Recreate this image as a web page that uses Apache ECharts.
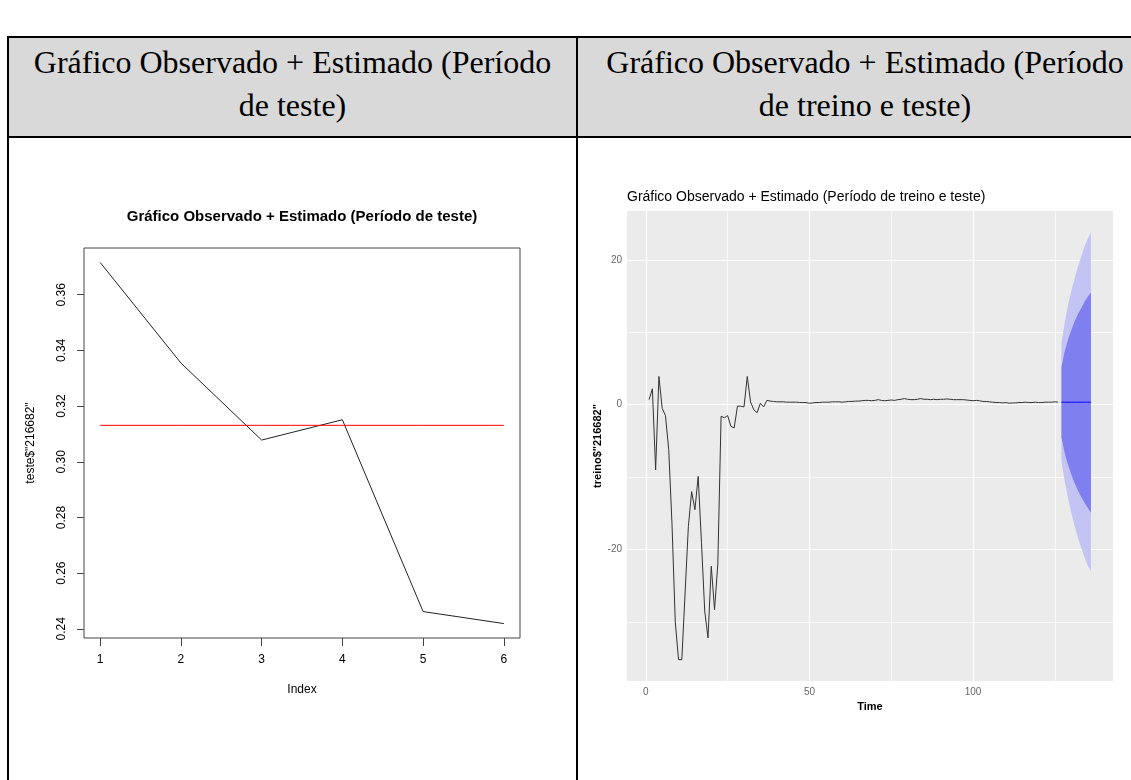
<!DOCTYPE html>
<html><head><meta charset="utf-8">
<script src="https://cdn.jsdelivr.net/npm/echarts@6/dist/echarts.min.js"></script>
<style>
html,body{margin:0;padding:0;background:#fff;}
#wrap{position:relative;width:1131px;height:780px;overflow:hidden;}
.hdr{position:absolute;left:8px;top:37px;width:1160px;height:100px;background:#D9D9D9;}
.ln{position:absolute;background:#000;}
.ht{position:absolute;font-family:'Liberation Serif','Times New Roman',serif;font-size:32px;color:#000;text-align:center;white-space:nowrap;line-height:40px;}
#chart{position:absolute;left:0;top:0;width:1131px;height:780px;}
</style></head>
<body>
<div id="wrap">
  <div class="hdr"></div>
  <div class="ln" style="left:7px;top:36px;width:1124px;height:2px;"></div>
  <div class="ln" style="left:7px;top:136px;width:1124px;height:2px;"></div>
  <div class="ln" style="left:7px;top:36px;width:2px;height:744px;"></div>
  <div class="ln" style="left:576px;top:36px;width:2px;height:744px;"></div>
  <div class="ht" style="left:9px;width:567px;top:42px;">Gráfico Observado + Estimado (Período</div>
  <div class="ht" style="left:9px;width:567px;top:85px;">de teste)</div>
  <div class="ht" style="left:578px;width:574px;top:42px;">Gráfico Observado + Estimado (Período</div>
  <div class="ht" style="left:578px;width:574px;top:85px;">de treino e teste)</div>
  <div id="chart"></div>
</div>
<script>
// ---------- Left chart data (período de teste) ----------
const testIndex = [1, 2, 3, 4, 5, 6];
const testObserved = [0.3716, 0.3355, 0.3078, 0.3151, 0.2462, 0.2419];
const testEstimated = [0.3131, 0.3131, 0.3131, 0.3131, 0.3131, 0.3131];
const testXTicks = [1, 2, 3, 4, 5, 6];
const testYTicks = [0.24, 0.26, 0.28, 0.30, 0.32, 0.34, 0.36];

// ---------- Right chart data (período de treino e teste) ----------
const trainValues = [
  0.7, 2.2, -9.0, 3.9, -0.5, -1.5, -6.2, -16.5, -30, -35.2,
  -35.2, -26, -16.8, -12, -14.5, -9.9, -19, -28.5, -32.2, -22.3,
  -28.3, -22, -1.6, -1.8, -1.5, -3.0, -3.2, -0.2, -0.2, -0.3,
  3.9, 0.4, -0.7, -1.1, 0.2, -0.3, 0.6,
  0.5, 0.45, 0.4, 0.4, 0.4, 0.35, 0.35, 0.35,
  0.35, 0.3, 0.3, 0.3, 0.2, 0.25, 0.3, 0.3, 0.35, 0.35,
  0.35, 0.4, 0.4, 0.4, 0.35, 0.4, 0.45, 0.45, 0.5, 0.5,
  0.55, 0.6, 0.6, 0.55, 0.6, 0.7, 0.6, 0.55, 0.6, 0.65,
  0.6, 0.7, 0.75, 0.85, 0.75, 0.7, 0.7, 0.75, 0.85, 0.75,
  0.75, 0.7, 0.75, 0.7, 0.75, 0.75, 0.8, 0.75, 0.7, 0.7,
  0.7, 0.7, 0.65, 0.6, 0.55, 0.6, 0.55, 0.45, 0.45, 0.4,
  0.35, 0.3, 0.3, 0.25, 0.3, 0.2, 0.25, 0.25, 0.3, 0.3,
  0.35, 0.3, 0.3, 0.35, 0.3, 0.3, 0.35, 0.35, 0.35, 0.4, 0.35
];
const fcTime = [127, 128, 129, 130, 131, 132, 133, 134, 135, 136];
const fcMean = [0.35, 0.35, 0.35, 0.35, 0.35, 0.35, 0.35, 0.35, 0.35, 0.35];
const fcHi80 = [5.2, 7.4, 9.0, 10.3, 11.5, 12.5, 13.3, 14.2, 14.9, 15.5];
const fcLo80 = [-4.5, -6.7, -8.3, -9.6, -10.8, -11.8, -12.7, -13.5, -14.2, -14.9];
const fcHi95 = [8.5, 11.4, 13.7, 15.7, 17.4, 19.0, 20.4, 21.8, 22.9, 23.8];
const fcLo95 = [-7.8, -10.6, -12.9, -14.9, -16.7, -18.3, -19.7, -21.0, -22.2, -23.0];
const trainXTicks = [0, 50, 100];
const trainYTicks = [-20, 0, 20];
const gridMajorX = [0, 50, 100];
const gridMinorX = [25, 75, 125];
const gridMajorY = [-20, 0, 20];
const gridMinorY = [-30, -10, 10];

const leftTitle = 'Gráfico Observado + Estimado (Período de teste)';
const rightTitle = 'Gráfico Observado + Estimado (Período de treino e teste)';

// ---------- derived ----------
function padRange(lo, hi, f) { const r = hi - lo; return [lo - f * r, hi + f * r]; }
const tXR = padRange(Math.min(...testIndex), Math.max(...testIndex), 0.04);
const tYR = padRange(Math.min(...testObserved, ...testEstimated), Math.max(...testObserved, ...testEstimated), 0.04);
const trainTime = trainValues.map((v, i) => i + 1);
const rXR = padRange(1, Math.max(...fcTime), 0.05);
const rYR = padRange(Math.min(...trainValues, ...fcLo95), Math.max(...trainValues, ...fcHi95), 0.05);

const pairs = (xs, ys) => xs.map((x, i) => [x, ys[i]]);

const FONT = "'Liberation Sans', Arial, sans-serif";

const chart = echarts.init(document.getElementById('chart'), null, {renderer: 'canvas', width: 1131, height: 780});

const gridLines = [];
gridMajorX.forEach(v => gridLines.push({xAxis: v, lineStyle: {color: '#fff', width: 1.2, type: 'solid'}}));
gridMinorX.forEach(v => gridLines.push({xAxis: v, lineStyle: {color: '#fff', width: 0.7, type: 'solid'}}));
gridMajorY.forEach(v => gridLines.push({yAxis: v, lineStyle: {color: '#fff', width: 1.2, type: 'solid'}}));
gridMinorY.forEach(v => gridLines.push({yAxis: v, lineStyle: {color: '#fff', width: 0.7, type: 'solid'}}));

function bandSeries(lo, hi, color, z) {
  return {
    type: 'custom', xAxisIndex: 1, yAxisIndex: 1, z: z, silent: true,
    data: [[fcTime[0], lo[0]]],
    renderItem: function (params, api) {
      const pts = [];
      for (let i = 0; i < fcTime.length; i++) pts.push(api.coord([fcTime[i], hi[i]]));
      for (let i = fcTime.length - 1; i >= 0; i--) pts.push(api.coord([fcTime[i], lo[i]]));
      return {type: 'polygon', shape: {points: pts}, style: {fill: color, stroke: null}};
    }
  };
}

const option = {
  animation: false,
  backgroundColor: 'transparent',
  textStyle: {fontFamily: FONT},
  title: [
    {text: leftTitle, left: 302, top: 209, textAlign: 'center', padding: 0,
     textStyle: {fontSize: 15, fontWeight: 'bold', color: '#000', fontFamily: FONT}},
    {text: rightTitle, left: 627, top: 190, padding: 0,
     textStyle: {fontSize: 14, fontWeight: 'normal', color: '#000', fontFamily: FONT}}
  ],
  grid: [
    {left: 84, top: 248, width: 436, height: 390, show: true, borderColor: '#444', borderWidth: 1,
     backgroundColor: 'transparent', containLabel: false, outerBoundsMode: 'none'},
    {left: 627, top: 211, width: 486, height: 470, show: true, borderWidth: 0,
     backgroundColor: '#EBEBEB', containLabel: false, outerBoundsMode: 'none'}
  ],
  xAxis: [
    {gridIndex: 0, type: 'value', min: tXR[0], max: tXR[1],
     axisLine: {show: false}, splitLine: {show: false},
     axisTick: {show: true, customValues: testXTicks, length: 8, lineStyle: {color: '#444'}},
     axisLabel: {customValues: testXTicks, margin: 16, fontSize: 12, color: '#000', fontFamily: FONT},
     name: 'Index', nameLocation: 'middle', nameGap: 46,
     nameTextStyle: {fontSize: 12, color: '#000', fontFamily: FONT}},
    {gridIndex: 1, type: 'value', min: rXR[0], max: rXR[1],
     axisLine: {show: false}, splitLine: {show: false},
     axisTick: {show: true, customValues: trainXTicks, length: 3, lineStyle: {color: '#444'}},
     axisLabel: {customValues: trainXTicks, margin: 6, fontSize: 10, color: '#666', fontFamily: FONT},
     name: 'Time', nameLocation: 'middle', nameGap: 17,
     nameTextStyle: {fontSize: 11, fontWeight: 'bold', color: '#000', fontFamily: FONT}}
  ],
  yAxis: [
    {gridIndex: 0, type: 'value', min: tYR[0], max: tYR[1],
     axisLine: {show: false}, splitLine: {show: false},
     axisTick: {show: true, customValues: testYTicks, length: 7, lineStyle: {color: '#444'}},
     axisLabel: {customValues: testYTicks, rotate: 90, margin: 16, fontSize: 12, color: '#000', fontFamily: FONT,
       formatter: v => v.toFixed(2)},
     name: 'teste$"216682"', nameLocation: 'middle', nameGap: 47,
     nameTextStyle: {fontSize: 12, color: '#000', fontFamily: FONT}},
    {gridIndex: 1, type: 'value', min: rYR[0], max: rYR[1],
     axisLine: {show: false}, splitLine: {show: false},
     axisTick: {show: true, customValues: trainYTicks, length: 3, lineStyle: {color: '#444'}},
     axisLabel: {customValues: trainYTicks, margin: 5, fontSize: 10, color: '#666', fontFamily: FONT},
     name: 'treino$"216682"', nameLocation: 'middle', nameGap: 22,
     nameTextStyle: {fontSize: 11, fontWeight: 'bold', color: '#000', fontFamily: FONT}}
  ],
  series: [
    {type: 'line', xAxisIndex: 0, yAxisIndex: 0, data: pairs(testIndex, testObserved),
     showSymbol: false, symbol: 'none', lineStyle: {color: '#222', width: 1}, silent: true},
    {type: 'line', xAxisIndex: 0, yAxisIndex: 0, data: pairs(testIndex, testEstimated),
     showSymbol: false, symbol: 'none', lineStyle: {color: '#ff0000', width: 1}, silent: true},

    // grid lines for ggplot panel
    {type: 'line', xAxisIndex: 1, yAxisIndex: 1, data: pairs(trainTime, trainValues), z: 1,
     showSymbol: false, symbol: 'none', lineStyle: {opacity: 0}, silent: true,
     markLine: {z: 1, silent: true, symbol: ['none', 'none'], label: {show: false}, animation: false, data: gridLines}},

    // forecast bands
    bandSeries(fcLo95, fcHi95, '#C4C4F4', 2),
    bandSeries(fcLo80, fcHi80, '#7F7FEF', 3),

    {type: 'line', xAxisIndex: 1, yAxisIndex: 1, data: pairs(fcTime, fcMean), z: 4,
     showSymbol: false, symbol: 'none', lineStyle: {color: '#0000FF', width: 1}, silent: true},
    {type: 'line', xAxisIndex: 1, yAxisIndex: 1, data: pairs(trainTime, trainValues), z: 4,
     showSymbol: false, symbol: 'none', lineStyle: {color: '#333', width: 1}, silent: true}
  ]
};
chart.setOption(option);
</script>
</body></html>
